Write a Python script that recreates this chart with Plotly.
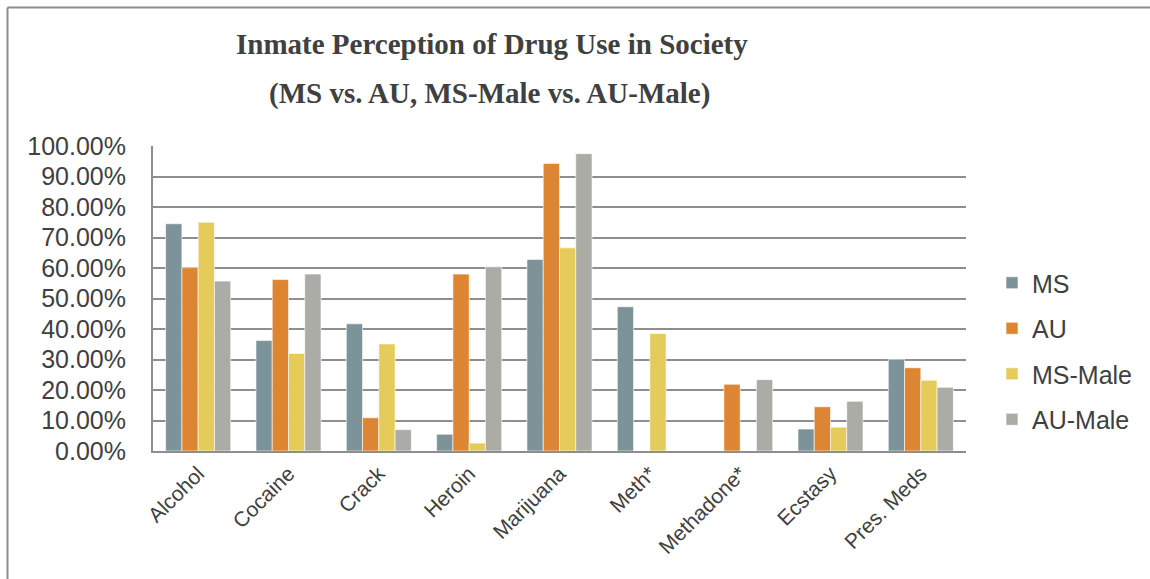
import plotly.graph_objects as go

# Survey results: share of inmates who perceive each drug as used in society
categories = ["Alcohol", "Cocaine", "Crack", "Heroin", "Marijuana",
              "Meth*", "Methadone*", "Ecstasy", "Pres. Meds"]
ms_values = [0.745, 0.362, 0.417, 0.055, 0.628, 0.473, 0.0, 0.072, 0.301]
au_values = [0.601, 0.562, 0.109, 0.580, 0.943, 0.0, 0.219, 0.145, 0.273]
ms_male_values = [0.750, 0.320, 0.351, 0.026, 0.666, 0.385, 0.0, 0.078, 0.232]
au_male_values = [0.557, 0.580, 0.070, 0.604, 0.975, 0.0, 0.234, 0.163, 0.209]
y_ticks = [i / 10 for i in range(11)]

series = [
    ("MS", ms_values, "#7c9399"),
    ("AU", au_values, "#dd8532"),
    ("MS-Male", ms_male_values, "#e4cb5a"),
    ("AU-Male", au_male_values, "#acaca6"),
]

W, H = 1150, 579
L, R, T, B = 153, 966, 146, 451  # plot area in pixels

fig = go.Figure()
for name, vals, color in series:
    fig.add_trace(go.Bar(
        x=categories, y=vals, name=name, legendgroup=name,
        marker=dict(color=color, line=dict(color="white", width=0.6)),
    ))

text_color = "#404040"
grid_color = "#8e8e8e"

def px_x(p):
    return (p - L) / (R - L)

def px_y(p):
    return (B - p) / (B - T)

title_font = dict(family="Liberation Serif, Times New Roman, serif",
                  size=29, color=text_color)

fig.update_layout(
    width=W, height=H,
    margin=dict(l=L, r=W - R, t=T, b=H - B, pad=0),
    paper_bgcolor="white", plot_bgcolor="white",
    barmode="group", bargap=0.28, bargroupgap=0,
    font=dict(family="Liberation Sans, Arial, sans-serif", color=text_color),
    showlegend=True,
    legend=dict(
        x=px_x(992), xanchor="left", y=px_y(260), yanchor="top",
        font=dict(size=25, color=text_color),
        tracegroupgap=10, itemwidth=30,
        bgcolor="rgba(0,0,0,0)",
    ),
    xaxis=dict(
        tickangle=-45, tickfont=dict(size=21, color=text_color),
        showline=True, linecolor=grid_color, linewidth=2,
        showgrid=False, ticks="",
    ),
    yaxis=dict(
        range=[0, 1.0], tickvals=y_ticks, tickformat=".2%",
        tickfont=dict(size=25, color=text_color),
        showgrid=True, gridcolor=grid_color, gridwidth=2,
        showline=True, linecolor=grid_color, linewidth=2,
        zeroline=False, ticks="", ticklabelstandoff=20,
    ),
    annotations=[
        dict(text="<b>Inmate Perception of Drug Use in Society</b>",
             xref="paper", yref="paper", x=px_x(492), y=px_y(62),
             xanchor="center", yanchor="bottom", showarrow=False,
             font=title_font),
        dict(text="<b>(MS vs. AU, MS-Male vs. AU-Male)</b>",
             xref="paper", yref="paper", x=px_x(489), y=px_y(112),
             xanchor="center", yanchor="bottom", showarrow=False,
             font=title_font),
    ],
    shapes=[
        # chart frame: top and left edges
        dict(type="line", xref="paper", yref="paper",
             x0=px_x(7.5), x1=px_x(W + 5), y0=px_y(7.5), y1=px_y(7.5),
             line=dict(color="#8c8c8c", width=2)),
        dict(type="line", xref="paper", yref="paper",
             x0=px_x(7.5), x1=px_x(7.5), y0=px_y(7.5), y1=px_y(H + 5),
             line=dict(color="#8c8c8c", width=2)),
    ],
)

fig.write_html("out.html")
